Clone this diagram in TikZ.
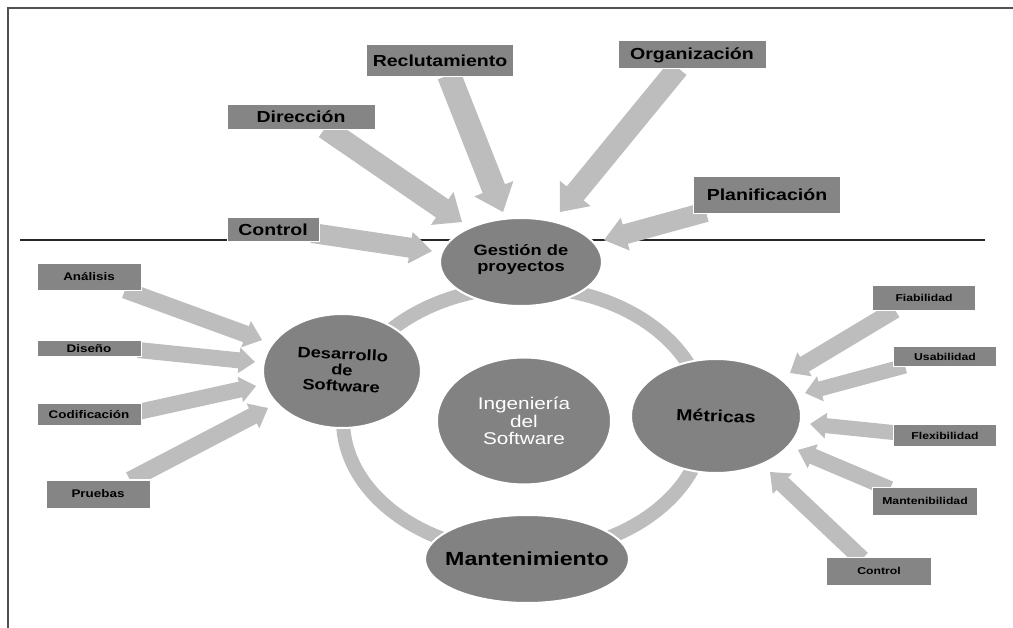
\documentclass[tikz,border=0pt]{standalone}
\usepackage{fontspec}
\setmainfont{Liberation Sans}[FakeStretch=1.22]
\usetikzlibrary{shapes.geometric,calc,backgrounds}
\definecolor{boxgray}{HTML}{858585}
\definecolor{ellgray}{HTML}{828282}
\definecolor{arrgray}{HTML}{BDBDBD}
\definecolor{framec}{HTML}{505050}
\tikzset{
  box/.style={rectangle, fill=boxgray, draw=white, line width=1pt, inner sep=0pt,
    text=black, font=\bfseries\fontsize{16}{18}\selectfont},
  sbox/.style={box, font=\bfseries\fontsize{11}{12}\selectfont},
  rbox/.style={box, font=\bfseries\fontsize{10}{11}\selectfont},
  ell/.style={ellipse, fill=ellgray, draw=white, line width=2pt, inner sep=0pt},
  etext/.style={inner sep=0pt, align=center, text=black,
    font=\bfseries\fontsize{15}{16}\selectfont},
  arrfill/.style={fill=arrgray},
  ring/.style={draw=arrgray, line width=14pt},
  sepline/.style={draw=black!85, line width=1.1pt},
  frameline/.style={draw=framec, line width=1.6pt}
}
% block arrow: tail, tip, half shaft, half head, head length
\newcommand\barrow[5]{%
  \fill[arrfill] let \p1=(#1), \p2=(#2),
      \n1={atan2(\y2-\y1,\x2-\x1)},
      \n3={veclen(\x2-\x1,\y2-\y1)-#5} in
    ($(\p1)+(\n1+90:#3)$) -- ($(\p1)+(\n1:\n3)+(\n1+90:#3)$) --
    ($(\p1)+(\n1:\n3)+(\n1+90:#4)$) -- (\p2) --
    ($(\p1)+(\n1:\n3)+(\n1-90:#4)$) -- ($(\p1)+(\n1:\n3)+(\n1-90:#3)$) --
    ($(\p1)+(\n1-90:#3)$) -- cycle;}
\begin{document}
\begin{tikzpicture}[x=1pt,y=-1pt]
\useasboundingbox (0,0) rectangle (1013,628);
\draw[frameline] (8,628) -- (8,8) -- (1013,8);

% ellipses
\node[ell, minimum width=162, minimum height=88] (gest) at (521,262) {};
\node[ell, minimum width=158, minimum height=114] (des) at (342,371) {};
\node[ell, minimum width=174, minimum height=127] (ing) at (524,421) {};
\node[ell, minimum width=170, minimum height=114] (met) at (716,416) {};
\node[ell, minimum width=204, minimum height=88] (mant) at (527,559) {};
\node[etext] (gestT) at ([yshift=2]gest.center) {Gestión de\\proyectos};
\node[etext, rotate=-3] (desT) at ([yshift=1]des.center) {Desarrollo\\de\\Software};
\node[etext, text=white, font=\mdseries\fontsize{17}{17.5}\selectfont] (ingT) at (ing) {Ingeniería\\del\\Software};
\node[etext, rotate=-2, font=\bfseries\fontsize{16}{17}\selectfont] (metT) at (met) {Métricas};
\node[etext, font=\bfseries\fontsize{19}{20}\selectfont] (mantT) at (mant) {Mantenimiento};

% top boxes
\node[box, minimum width=147, minimum height=32] (rec) at (440,61) {Reclutamiento};
\node[box, minimum width=148, minimum height=25] (dir) at (301,117) {Dirección};
\node[box, minimum width=92, minimum height=24] (ctl) at (273,230) {Control};
\node[box, minimum width=148, minimum height=28] (org) at (692,55) {Organización};
\node[box, minimum width=147, minimum height=37] (pla) at (767,195) {Planificación};

% left boxes
\node[sbox, minimum width=104, minimum height=27] (ana) at (89,277) {Análisis};
\node[sbox, minimum width=104, minimum height=16] (dis) at (89,349) {Diseño};
\node[sbox, minimum width=104, minimum height=22] (cod) at (89,415) {Codificación};
\node[sbox, minimum width=104, minimum height=28] (pru) at (98,494) {Pruebas};

% right boxes
\node[rbox, minimum width=103, minimum height=25] (fia) at (924,298) {Fiabilidad};
\node[rbox, minimum width=103, minimum height=20] (usa) at (945,357) {Usabilidad};
\node[rbox, minimum width=103, minimum height=22] (fle) at (945,436) {Flexibilidad};
\node[rbox, minimum width=105, minimum height=28] (mnb) at (925,501) {Mantenibilidad};
\node[rbox, minimum width=105, minimum height=28] (ctb) at (879,571) {Control};

% arrow tips
\coordinate (tDir) at (462,222);
\coordinate (tRec) at (503,212);
\coordinate (tOrg) at (560,212);
\coordinate (tPla) at (604,240);
\coordinate (tCtl) at (432,251);
\coordinate (tAna) at (262,340);
\coordinate (tDis) at (255,362);
\coordinate (tCod) at (256,386);
\coordinate (tPru) at (268,408);
\coordinate (tFia) at (790,373);
\coordinate (tUsa) at (805,393);
\coordinate (tFle) at (810,424);
\coordinate (tMnb) at (798,450);
\coordinate (tCtb) at (770,472);

\begin{pgfonlayer}{background}
\draw[sepline] (20,240) -- (985,240);
\draw[ring] (524,420) ellipse [x radius=181pt, y radius=133pt];
\barrow{[shift={(24,11)}]dir.center}{tDir}{11pt}{20pt}{24pt}
\barrow{[shift={(9,14)}]rec.center}{tRec}{12pt}{21pt}{25pt}
\barrow{[shift={(-14,13)}]org.center}{tOrg}{11pt}{20pt}{24pt}
\barrow{[shift={(-61,17)}]pla.center}{tPla}{10pt}{17pt}{22pt}
\barrow{[shift={(39,3)}]ctl.center}{tCtl}{10pt}{16pt}{22pt}
\barrow{[shift={(36,13)}]ana.center}{tAna}{8.5pt}{14pt}{17pt}
\barrow{[shift={(49,1)}]dis.center}{tDis}{8pt}{13pt}{16pt}
\barrow{[shift={(49,-3)}]cod.center}{tCod}{8pt}{13pt}{16pt}
\barrow{[shift={(32,-14)}]pru.center}{tPru}{8.5pt}{14pt}{17pt}
\barrow{[shift={(-29,12)}]fia.center}{tFia}{8.5pt}{14pt}{17pt}
\barrow{[shift={(-40,9)}]usa.center}{tUsa}{7.5pt}{13pt}{16pt}
\barrow{[shift={(-47,-3)}]fle.center}{tFle}{7.5pt}{13pt}{16pt}
\barrow{[shift={(-35,-12)}]mnb.center}{tMnb}{8pt}{13pt}{16pt}
\barrow{[shift={(-17,-12)}]ctb.center}{tCtb}{8.5pt}{14pt}{17pt}
\end{pgfonlayer}
\end{tikzpicture}
\end{document}
